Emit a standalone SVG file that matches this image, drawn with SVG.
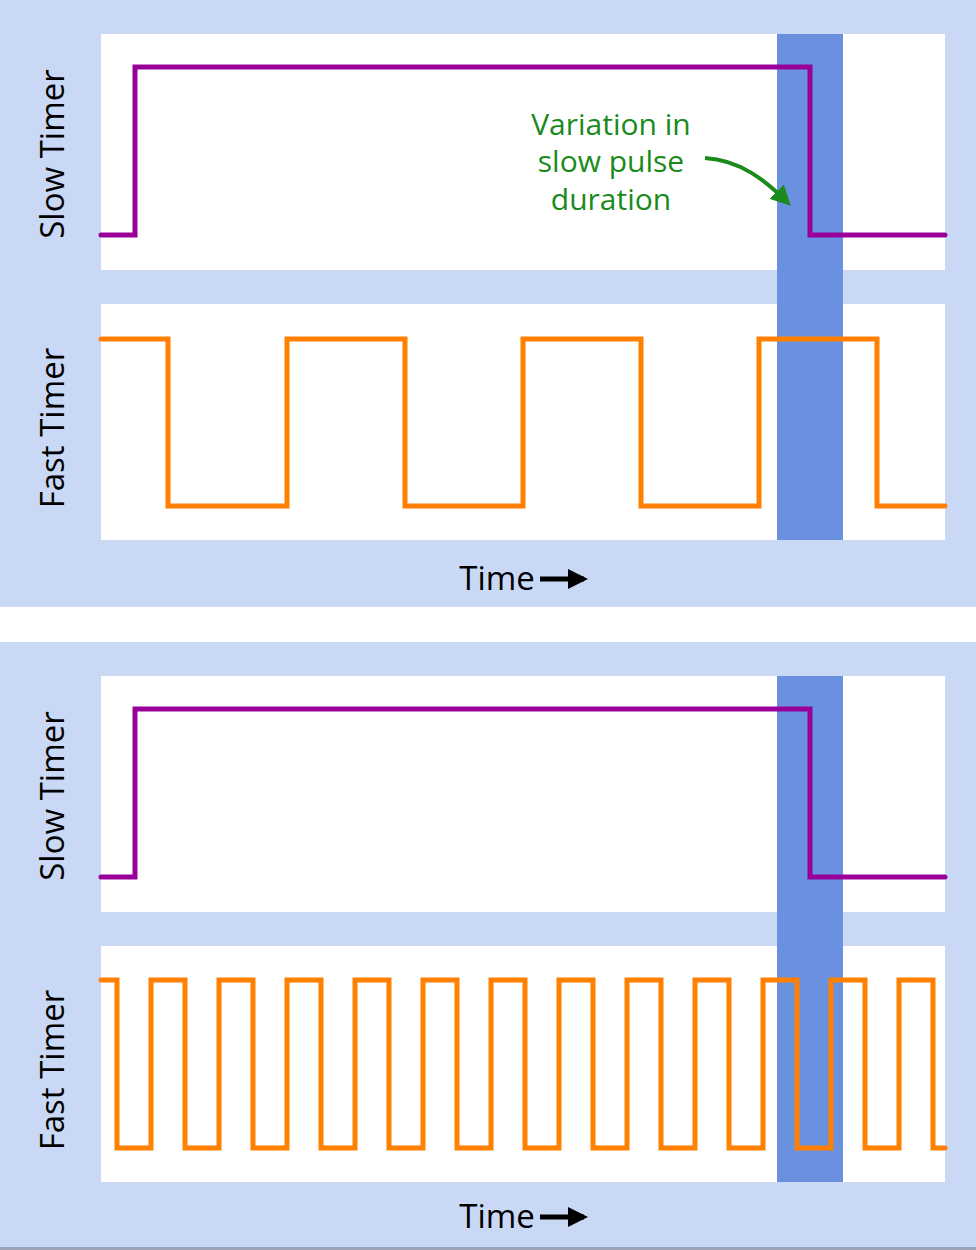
<svg xmlns="http://www.w3.org/2000/svg" width="976" height="1250" viewBox="0 0 976 1250">
<style>
.bg{fill:#c9d8f5}.box{fill:#fff}.band{fill:#6a91e0}
.slow{fill:none;stroke:#990099;stroke-width:5;stroke-linecap:round}
.fast{fill:none;stroke:#ff8000;stroke-width:5;stroke-linecap:round}
.lbl{font-family:"Open Sans","Liberation Sans",sans-serif;font-size:33px;fill:#000;text-anchor:middle}
.note{font-family:"Open Sans","Liberation Sans",sans-serif;font-size:30px;fill:#1a8a1a;text-anchor:middle}
</style>
<defs>
<marker id="ga" viewBox="0 0 10 10" refX="8" refY="5" markerWidth="5" markerHeight="5" orient="auto"><path d="M0,0L10,5L0,10z" fill="#1a8a1a"/></marker>
<marker id="ba" viewBox="0 0 10 10" refX="8" refY="5" markerWidth="4" markerHeight="4" orient="auto"><path d="M0,0L10,5L0,10z" fill="#000"/></marker>
</defs>
<rect width="976" height="1250" fill="#fff"/>
<g id="panel1">
<rect class="bg" x="0" y="0" width="976" height="607"/>
<rect class="box" x="101" y="34" width="844" height="236"/>
<rect class="box" x="101" y="304" width="844" height="236"/>
<rect class="band" x="777" y="34" width="66" height="506"/>
<path class="slow" d="M101,235H135V67H810V235H945"/>
<path class="fast" d="M101,339H168V506H287V339H405V506H523V339H641V506H759V339H877V506H945"/>
<text class="lbl" transform="translate(64,154) rotate(-90)">Slow Timer</text>
<text class="lbl" transform="translate(64,428) rotate(-90)">Fast Timer</text>
<text class="lbl" x="497" y="590">Time</text>
<line x1="540" y1="579" x2="584" y2="579" stroke="#000" stroke-width="5" marker-end="url(#ba)"/>
</g>
<g id="note">
<text class="note" x="611" y="135">Variation in</text>
<text class="note" x="611" y="172">slow pulse</text>
<text class="note" x="611" y="210">duration</text>
</g>
<g id="panel2">
<rect class="bg" x="0" y="642" width="976" height="608"/>
<rect class="box" x="101" y="676" width="844" height="236"/>
<rect class="box" x="101" y="946" width="844" height="236"/>
<rect class="band" x="777" y="676" width="66" height="506"/>
<path class="slow" d="M101,877H135V709H810V877H945"/>
<path class="fast" d="M101,980H117V1148H151V980H185V1148H219V980H253V1148H287V980H321V1148H355V980H389V1148H423V980H457V1148H491V980H525V1148H559V980H593V1148H627V980H661V1148H695V980H729V1148H763V980H797V1148H831V980H865V1148H899V980H933V1148H945"/>
<text class="lbl" transform="translate(64,796) rotate(-90)">Slow Timer</text>
<text class="lbl" transform="translate(64,1070) rotate(-90)">Fast Timer</text>
<text class="lbl" x="497" y="1228">Time</text>
<line x1="540" y1="1217" x2="584" y2="1217" stroke="#000" stroke-width="5" marker-end="url(#ba)"/>
<line x1="0" y1="1248.5" x2="976" y2="1248.5" stroke="#9aa6b8" stroke-width="3"/>
</g>
<g id="connectors">
<path d="M705,158C740,160 765,180 788,203" fill="none" stroke="#1a8a1a" stroke-width="4" marker-end="url(#ga)"/>
</g>
</svg>
